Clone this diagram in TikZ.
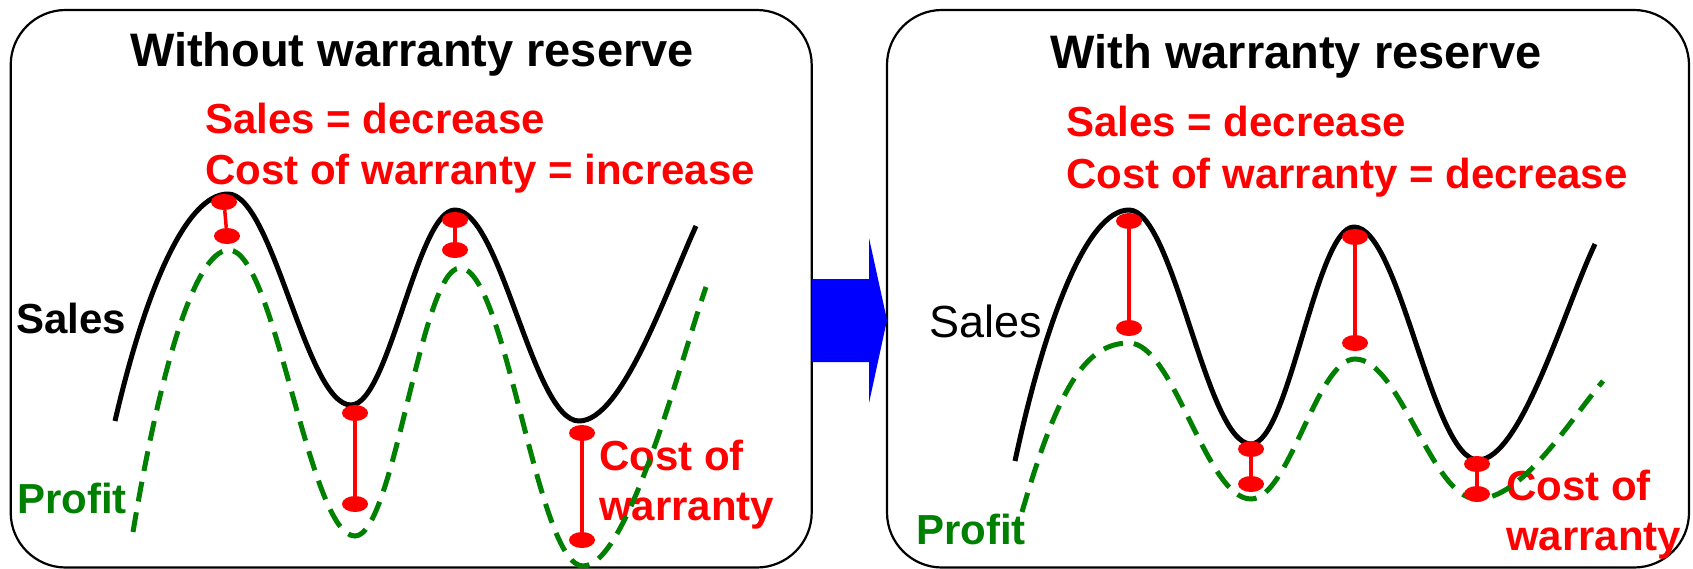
\documentclass[tikz,border=0pt]{standalone}
\usepackage{fontspec}
\setmainfont{Liberation Sans}
\usetikzlibrary{shapes.geometric}
\definecolor{profitgreen}{RGB}{0,128,0}
\begin{document}
\begin{tikzpicture}[x=1pt,y=-1pt,
  panel/.style={draw=black,line width=2.2pt,rounded corners=55pt},
  heading/.style={font=\fontsize{47}{56}\selectfont\bfseries,anchor=base,inner sep=0pt},
  note/.style={font=\fontsize{42}{50}\selectfont\bfseries,text=red,anchor=base west,inner sep=0pt},
  tag/.style={font=\fontsize{42}{50}\selectfont\bfseries,anchor=base west,inner sep=0pt},
  salesline/.style={line width=5pt,black,line join=round},
  profitline/.style={line width=5pt,profitgreen,dash pattern=on 20pt off 11pt},
  dot/.style={ellipse,fill=red,minimum width=26pt,minimum height=16pt,inner sep=0pt},
  gap/.style={red,line width=3.5pt}]
\useasboundingbox (0,0) rectangle (1693,569);

% panels
\draw[panel] (10.7,10) rectangle (811.7,567.5);
\draw[panel] (887,10) rectangle (1689,567.5);

% transition arrow between the panels
\fill[blue] (812,279) -- (869,279) -- (869,238) -- (887,320) -- (869,403) -- (869,362) -- (812,362) -- cycle;

% ---------- left panel ----------
\node[heading] (ltitle) at (412,67) {Without warranty reserve};
\node[note] (lnote1) at (205,134) {Sales = decrease};
\node[note] (lnote2) at (205,185) {Cost of warranty = increase};
\node[tag] (lsales) at (16,333) {Sales};
\node[tag,text=profitgreen] (lprofit) at (17,513) {Profit};
\node[note] (lcost1) at (599,470) {Cost of};
\node[note] (lcost2) at (599,520) {warranty};

\draw[salesline] (115,421) .. controls +(30,-130) and +(-42,0) .. (228,194)
  .. controls +(45,0) and +(-45,0) .. (351,405)
  .. controls +(38,0) and +(-38,0) .. (455,210)
  .. controls +(46,0) and +(-46,0) .. (579,421)
  .. controls +(43,0) and +(-30,66) .. (696,226);

\draw[profitline] (133,532) .. controls +(25,-150) and +(-36,0) .. (229,250)
  .. controls +(46,0) and +(-46,0) .. (355,536)
  .. controls +(39,0) and +(-39,0) .. (460,268)
  .. controls +(46,0) and +(-46,0) .. (583,566)
  .. controls +(45,0) and +(-25,72) .. (706,287);

\node[dot] (la1) at (224,202) {};
\node[dot] (la2) at (227,236) {};
\node[dot] (lb1) at (355,413) {};
\node[dot] (lb2) at (355,504) {};
\node[dot] (lc1) at (455,220) {};
\node[dot] (lc2) at (455,250) {};
\node[dot] (ld1) at (582,433) {};
\node[dot] (ld2) at (582,540) {};
\draw[gap] (la1) -- (la2);
\draw[gap] (lb1) -- (lb2);
\draw[gap] (lc1) -- (lc2);
\draw[gap] (ld1) -- (ld2);

% ---------- right panel ----------
\node[heading] (rtitle) at (1296,69) {With warranty reserve};
\node[note] (rnote1) at (1066,137) {Sales = decrease};
\node[note] (rnote2) at (1066,189) {Cost of warranty = decrease};
\node[tag,font=\fontsize{45}{54}\selectfont] (rsales) at (929,337) {Sales};
\node[tag,text=profitgreen] (rprofit) at (916,544) {Profit};
\node[note] (rcost1) at (1506,500) {Cost of};
\node[note] (rcost2) at (1506,550) {warranty};

\draw[salesline] (1015,461) .. controls +(30,-140) and +(-42,0) .. (1129,210)
  .. controls +(45,0) and +(-45,0) .. (1251,444)
  .. controls +(38,0) and +(-38,0) .. (1354,227)
  .. controls +(46,0) and +(-46,0) .. (1478,460)
  .. controls +(43,0) and +(-30,63) .. (1595,244);

\draw[profitline] (1022,512) .. controls +(35,-120) and +(-45,0) .. (1129,343)
  .. controls +(45,0) and +(-45,0) .. (1251,499)
  .. controls +(38,0) and +(-38,0) .. (1355,359)
  .. controls +(45,0) and +(-45,0) .. (1477,499)
  .. controls +(45,0) and +(-35,42) .. (1603,381);

\node[dot] (ra1) at (1129,221) {};
\node[dot] (ra2) at (1129,328) {};
\node[dot] (rb1) at (1251,449) {};
\node[dot] (rb2) at (1251,484) {};
\node[dot] (rc1) at (1355,237) {};
\node[dot] (rc2) at (1355,343) {};
\node[dot] (rd1) at (1477,464) {};
\node[dot] (rd2) at (1477,494) {};
\draw[gap] (ra1) -- (ra2);
\draw[gap] (rb1) -- (rb2);
\draw[gap] (rc1) -- (rc2);
\draw[gap] (rd1) -- (rd2);
\end{tikzpicture}
\end{document}
